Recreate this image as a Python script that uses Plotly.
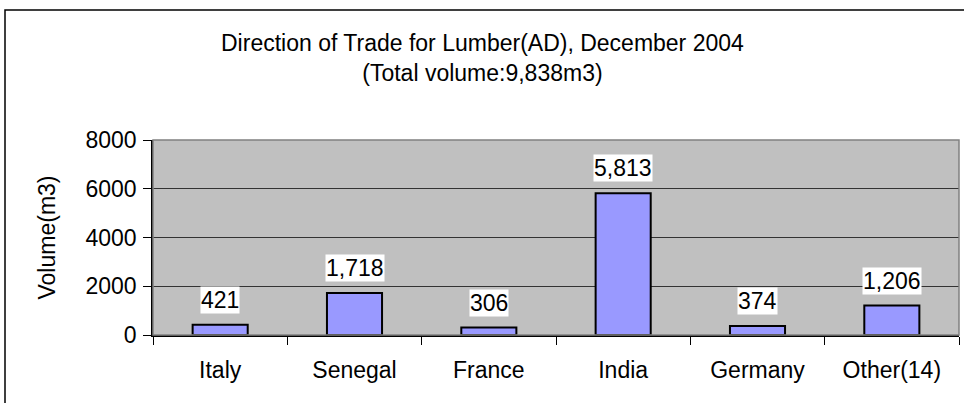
import plotly.graph_objects as go

categories = ["Italy", "Senegal", "France", "India", "Germany", "Other(14)"]
volumes = [421, 1718, 306, 5813, 374, 1206]
labels = ["421", "1,718", "306", "5,813", "374", "1,206"]
y_ticks = [0, 2000, 4000, 6000, 8000]

W, H = 964, 403
L, R, T, B = 153, 5, 140, 68
pw, ph = W - L - R, H - T - B

FONT = "Liberation Sans, Arial, sans-serif"
FS = 23

fig = go.Figure()
fig.add_trace(go.Bar(
    x=categories, y=volumes,
    marker=dict(color="#9999FF", line=dict(color="black", width=2)),
    width=0.41,
))

for c, v, t in zip(categories, volumes, labels):
    fig.add_annotation(x=c, y=v, text=t, showarrow=False, yshift=25,
                       bgcolor="white", font=dict(size=FS, color="black", family=FONT),
                       borderpad=0)

def px(x):
    return (x - L) / pw

def py(y):
    return (H - B - y) / ph

# outer chart border
fig.add_shape(type="rect", xref="paper", yref="paper",
              x0=px(5), x1=px(970), y0=py(10), y1=py(410),
              line=dict(color="black", width=1.5), fillcolor="rgba(0,0,0,0)", layer="below")
# plot area border
fig.add_shape(type="rect", xref="paper", yref="paper", x0=0, x1=1, y0=0, y1=1,
              line=dict(color="#808080", width=1.5), fillcolor="rgba(0,0,0,0)")

fig.add_annotation(xref="paper", yref="paper", x=px(482), y=py(58),
                   xanchor="center", yanchor="middle",
                   text="Direction of Trade for Lumber(AD), December 2004<br>(Total volume:9,838m3)",
                   showarrow=False, font=dict(size=FS, family=FONT, color="black"),
                   align="center")

fig.update_layout(
    width=W, height=H,
    margin=dict(l=L, r=R, t=T, b=B),
    paper_bgcolor="white", plot_bgcolor="#C0C0C0",
    showlegend=False,
    font=dict(family=FONT, size=FS, color="black"),
    bargap=0.59,
)
fig.update_xaxes(type="category", tickson="boundaries", ticks="outside", ticklen=8,
                 tickcolor="black", showline=True, linecolor="black", linewidth=1.5,
                 showgrid=False, tickfont=dict(size=FS), ticklabelstandoff=14)
fig.update_yaxes(range=[0, 8000], tickvals=y_ticks, ticks="outside", ticklen=8,
                 tickcolor="black", showline=True, linecolor="black", linewidth=1.5,
                 gridcolor="#333333", gridwidth=1, zeroline=False,
                 tickfont=dict(size=FS), ticklabelstandoff=2,
                 title=dict(text="Volume(m3)", font=dict(size=FS), standoff=23))

fig.write_html("out.html", config={"displayModeBar": False},
               post_script="document.body.style.margin='0';document.body.style.overflow='hidden';")
